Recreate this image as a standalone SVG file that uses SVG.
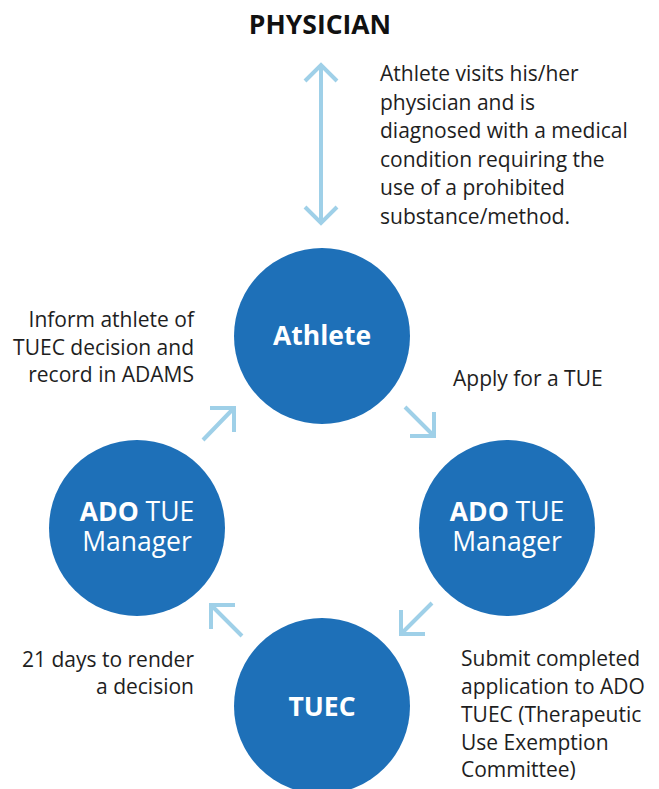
<svg xmlns="http://www.w3.org/2000/svg" width="659" height="789" viewBox="0 0 659 789">
<style>
.t{font-family:"Open Sans","Noto Sans",sans-serif;font-size:21px;fill:#1e1e1e}
.r{text-anchor:end}
.c{fill:#1e70b8}
.w{font-family:"Open Sans","Noto Sans",sans-serif;fill:#fff;text-anchor:middle;font-size:26.5px}
.b{font-weight:bold}
.a{fill:none;stroke:#9fd0e8;stroke-width:4;stroke-linecap:butt;stroke-linejoin:miter}
</style>
<rect width="659" height="789" fill="#fff"/>
<g id="physician"><text x="320" y="34" text-anchor="middle" font-family="'Open Sans','Noto Sans',sans-serif" font-weight="bold" font-size="26.5" fill="#111">PHYSICIAN</text></g>
<g id="connectors">
<path class="a" d="M321 66V222M305 81L321 65L337 81M305 207L321 223L337 207"/>
<path class="a" d="M203 440L233 409M210 408H234V432"/>
<path class="a" d="M405 407L433 435M434 412V436H410"/>
<path class="a" d="M432 603L402 633M401 610V634H425"/>
<path class="a" d="M242 636L212 606M211 629V605H235"/>
</g>
<g id="athlete"><circle class="c" cx="322" cy="336" r="88"/><text class="w b" x="322" y="345">Athlete</text></g>
<g id="ado-right"><circle class="c" cx="507" cy="528" r="88"/><text class="w"><tspan x="507" y="521"><tspan class="b">ADO</tspan> TUE</tspan><tspan x="507" y="551">Manager</tspan></text></g>
<g id="ado-left"><circle class="c" cx="137" cy="528" r="88"/><text class="w"><tspan x="137" y="521"><tspan class="b">ADO</tspan> TUE</tspan><tspan x="137" y="551">Manager</tspan></text></g>
<g id="tuec"><circle class="c" cx="322" cy="706" r="88"/><text class="w b" x="322" y="716" font-size="27.5">TUEC</text></g>
<g id="labels">
<text class="t"><tspan x="380" y="81">Athlete visits his/her</tspan><tspan x="380" y="110">physician and is</tspan><tspan x="380" y="138">diagnosed with a medical</tspan><tspan x="380" y="167">condition requiring the</tspan><tspan x="380" y="195">use of a prohibited</tspan><tspan x="380" y="224">substance/method.</tspan></text>
<text class="t r"><tspan x="194" y="327">Inform athlete of</tspan><tspan x="194" y="355">TUEC decision and</tspan><tspan x="194" y="382">record in ADAMS</tspan></text>
<text class="t" x="453" y="386">Apply for a TUE</text>
<text class="t"><tspan x="461" y="666">Submit completed</tspan><tspan x="461" y="694">application to ADO</tspan><tspan x="461" y="722">TUEC (Therapeutic</tspan><tspan x="461" y="750">Use Exemption</tspan><tspan x="461" y="777">Committee)</tspan></text>
<text class="t r"><tspan x="194" y="667">21 days to render</tspan><tspan x="194" y="694">a decision</tspan></text>
</g>
</svg>
